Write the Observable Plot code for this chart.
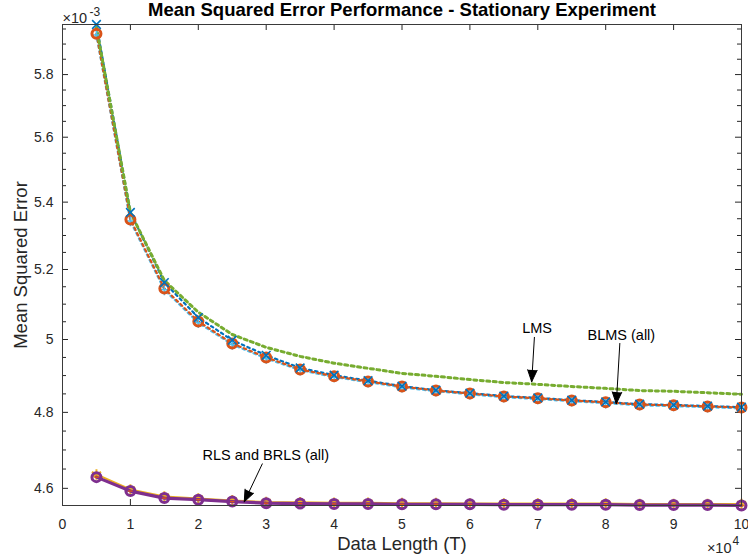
<!DOCTYPE html>
<html>
<head>
<meta charset="utf-8">
<script src="https://cdn.jsdelivr.net/npm/d3@7"></script>
<script src="https://cdn.jsdelivr.net/npm/@observablehq/plot@0.6"></script>
<style>
  body { margin: 0; background: #fff; }
  #chart svg { display: block; }
</style>
</head>
<body>
<div id="chart"></div>
<script>
// Data length T (samples)
const T = [5000, 10000, 15000, 20000, 25000, 30000, 35000, 40000, 45000, 50000,
           55000, 60000, 65000, 70000, 75000, 80000, 85000, 90000, 95000, 100000];

// Mean squared error, in units of 1e-3
const lms        = [5.955, 5.369, 5.168, 5.077, 5.014, 4.978, 4.953, 4.934, 4.920, 4.906,
                    4.898, 4.889, 4.881, 4.876, 4.870, 4.865, 4.859, 4.857, 4.853, 4.849];
const blmsA      = [5.965, 5.369, 5.162, 5.062, 4.998, 4.956, 4.921, 4.901, 4.886, 4.871,
                    4.860, 4.852, 4.844, 4.839, 4.833, 4.828, 4.822, 4.820, 4.817, 4.814];
const blmsB      = [5.934, 5.348, 5.145, 5.051, 4.989, 4.950, 4.917, 4.898, 4.884, 4.870,
                    4.859, 4.851, 4.843, 4.838, 4.832, 4.827, 4.821, 4.819, 4.816, 4.813];
const blmsC      = [5.930, 5.343, 5.141, 5.047, 4.986, 4.947, 4.915, 4.896, 4.882, 4.868,
                    4.857, 4.849, 4.841, 4.836, 4.830, 4.825, 4.819, 4.817, 4.814, 4.811];
const rls        = [4.636, 4.597, 4.579, 4.574, 4.569, 4.565, 4.564, 4.563, 4.563, 4.562,
                    4.562, 4.561, 4.561, 4.561, 4.561, 4.561, 4.560, 4.560, 4.560, 4.560];
const brls       = [4.629, 4.593, 4.575, 4.571, 4.566, 4.562, 4.561, 4.560, 4.560, 4.559,
                    4.559, 4.559, 4.558, 4.558, 4.558, 4.558, 4.557, 4.557, 4.557, 4.556];

// Axis ticks
const xTicks   = [0, 10000, 20000, 30000, 40000, 50000, 60000, 70000, 80000, 90000, 100000];
const yMajor   = [4.6, 4.8, 5.0, 5.2, 5.4, 5.6, 5.8];
const yMinor   = [4.65, 4.7, 4.75, 4.85, 4.9, 4.95, 5.05, 5.1, 5.15, 5.25, 5.3, 5.35,
                  5.45, 5.5, 5.55, 5.65, 5.7, 5.75, 5.85, 5.9, 5.95];

// Annotation labels and the arrows pointing at the curves (data coordinates)
const noteLabels = ["LMS", "BLMS (all)", "RLS and BRLS (all)"];
const noteTextT  = [69900, 82300, 29940];
const noteTextV  = [5.032, 5.011, 4.6845];
const arrowFromT = [69500, 82080, 29425];
const arrowFromV = [5.006, 4.989, 4.6635];
const arrowToT   = [69100, 81560, 26770];
const arrowToV   = [4.883, 4.823, 4.5654];

const series = (vals) => T.map((t, i) => ({t, v: vals[i]}));
const notes = noteLabels.map((label, i) => ({
  label, tx: noteTextT[i], tv: noteTextV[i],
  x1: arrowFromT[i], y1: arrowFromV[i], x2: arrowToT[i], y2: arrowToV[i]
}));

const W = 748, H = 558;
const mL = 62, mR = 7, mT = 24, mB = 53;
const frameW = W - mL - mR, frameH = H - mT - mB;
const axisColor = "#262626";
const font = "'Liberation Sans', Arial, Helvetica, sans-serif";

const C = {
  blue: "#0072BD", orange: "#D95319", yellow: "#EDB120",
  purple: "#7E2F8E", green: "#77AC30", cyan: "#4DBEEE"
};

// Short horizontal bar used as a marker inside the circles
const minus = {
  draw(ctx, size) {
    const r = Math.sqrt(size / Math.PI);
    ctx.moveTo(-r, 0);
    ctx.lineTo(r, 0);
  }
};

const label = (text, options) =>
  Plot.text([text], {text: d => d, lineAnchor: "middle", fill: axisColor, ...options});

const chart = Plot.plot({
  width: W,
  height: H,
  marginLeft: mL,
  marginRight: mR,
  marginTop: mT,
  marginBottom: mB,
  style: {fontFamily: font, fontSize: "14px", color: axisColor, background: "#fff"},
  x: {domain: [0, 100000], axis: null},
  y: {type: "log", domain: [4.556, 5.965], axis: null},
  marks: [
    // Tick marks pointing inward on all four sides
    Plot.tickX(xTicks, {x: d => d, insetTop: frameH - 6, stroke: axisColor}),
    Plot.tickX(xTicks, {x: d => d, insetBottom: frameH - 6, stroke: axisColor}),
    Plot.tickY(yMajor, {y: d => d, insetRight: frameW - 6, stroke: axisColor}),
    Plot.tickY(yMajor, {y: d => d, insetLeft: frameW - 6, stroke: axisColor}),
    Plot.tickY(yMinor, {y: d => d, insetRight: frameW - 4, stroke: axisColor}),
    Plot.tickY(yMinor, {y: d => d, insetLeft: frameW - 4, stroke: axisColor}),

    // Tick labels
    Plot.axisX({ticks: xTicks, tickSize: 0, tickPadding: 14, tickFormat: d => d / 1e4,
                label: null, fontSize: 14, fill: axisColor}),
    Plot.axisY({ticks: yMajor, tickSize: 0, tickPadding: 9, tickFormat: d => String(+d.toFixed(1)),
                label: null, fontSize: 14, fill: axisColor}),

    // LMS / BLMS group (dotted lines)
    Plot.line(series(blmsC), {x: "t", y: "v", stroke: C.cyan, strokeWidth: 2.2,
              strokeDasharray: "2.5 3.5", strokeDashoffset: 1.5}),
    Plot.line(series(blmsA), {x: "t", y: "v", stroke: C.blue, strokeWidth: 2.2,
              strokeDasharray: "2.5 3.5", strokeDashoffset: 3}),
    Plot.line(series(blmsB), {x: "t", y: "v", stroke: C.orange, strokeWidth: 2.2,
              strokeDasharray: "2.5 3.5"}),
    Plot.line(series(lms), {x: "t", y: "v", stroke: C.green, strokeWidth: 3,
              strokeDasharray: "3 3.5"}),
    Plot.dot(series(blmsC), {x: "t", y: "v", symbol: "plus", r: 3.5, stroke: C.cyan, strokeWidth: 1.5}),
    Plot.dot(series(blmsB), {x: "t", y: "v", symbol: "circle", r: 4.5, stroke: C.orange,
             strokeWidth: 3, fill: "none"}),
    Plot.dot(series(blmsA), {x: "t", y: "v", symbol: "times", r: 4, stroke: C.blue, strokeWidth: 1.6}),

    // RLS / BRLS group (solid lines)
    Plot.dot(series(rls), {x: "t", y: "v", symbol: "asterisk", r: 5, stroke: C.yellow, strokeWidth: 2}),
    Plot.line(series(rls), {x: "t", y: "v", stroke: C.yellow, strokeWidth: 2}),
    Plot.line(series(brls), {x: "t", y: "v", stroke: C.purple, strokeWidth: 3.2}),
    Plot.dot(series(brls), {x: "t", y: "v", symbol: "circle", r: 4.5, stroke: C.purple,
             strokeWidth: 3, fill: "none"}),
    Plot.dot(series(brls), {x: "t", y: "v", symbol: minus, r: 2.2, stroke: C.orange, strokeWidth: 1.5}),

    // Box
    Plot.frame({stroke: "#3a3a3a", strokeWidth: 1}),

    // Annotations
    Plot.arrow(notes, {x1: "x1", y1: "y1", x2: "x2", y2: "y2", stroke: "black", fill: "black",
               strokeWidth: 1, headLength: 19, headAngle: 44}),
    Plot.text(notes, {x: "tx", y: "tv", text: "label", fontSize: 14.5, fill: "black"}),

    // Axis titles and exponent labels
    label("Data Length (T)", {frameAnchor: "bottom", dy: 39, fontSize: 18.5}),
    label("Mean Squared Error", {frameAnchor: "left", textAnchor: "middle", dx: -41,
          rotate: -90, fontSize: 18.5}),
    label("Mean Squared Error Performance - Stationary Experiment",
          {frameAnchor: "top", dy: -14, fontSize: 18.5, fontWeight: "bold", fill: "black"}),
    label("×10", {frameAnchor: "top-left", textAnchor: "start", dx: 0, dy: -6, fontSize: 14.5}),
    label("-3", {frameAnchor: "top-left", textAnchor: "start", dx: 27, dy: -12, fontSize: 12}),
    label("×10", {frameAnchor: "bottom-right", textAnchor: "end", dx: -10, dy: 43, fontSize: 14.5}),
    label("4", {frameAnchor: "bottom-right", textAnchor: "start", dx: -9, dy: 36, fontSize: 12})
  ]
});

document.getElementById("chart").append(chart);
</script>
</body>
</html>
